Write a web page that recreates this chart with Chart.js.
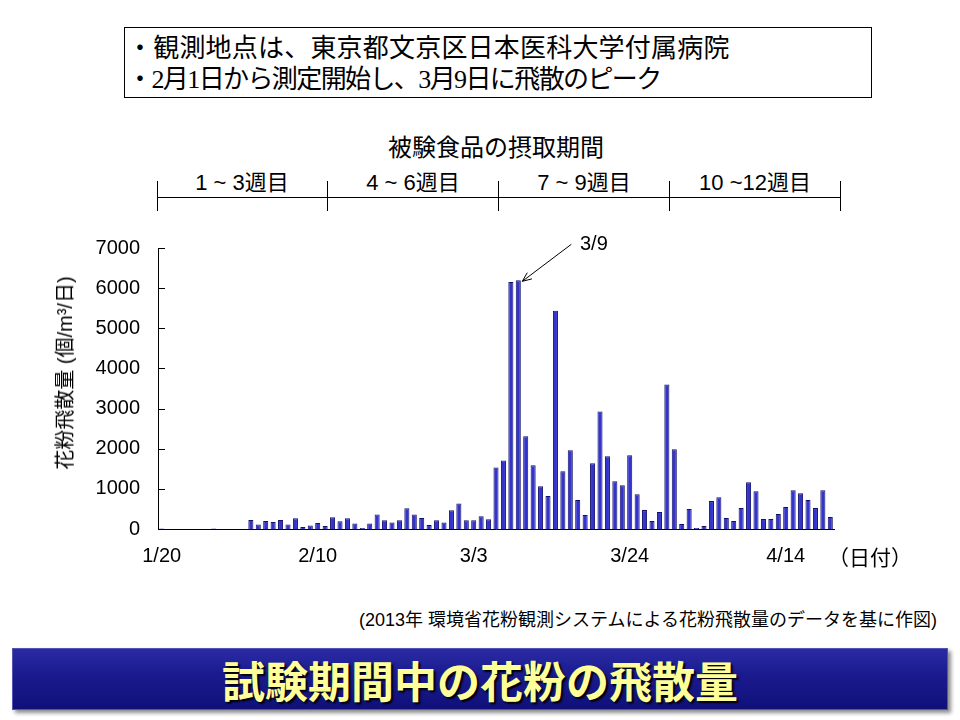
<!DOCTYPE html>
<html lang="ja">
<head>
<meta charset="utf-8">
<script src="https://cdn.jsdelivr.net/npm/chart.js@4.4.1/dist/chart.umd.min.js"></script>
<style>
  body { margin: 0; background: #fff; width: 960px; height: 720px; position: relative; overflow: hidden;
         font-family: "Liberation Sans", "Noto Sans CJK JP", sans-serif; color: #000; }
  .abs { position: absolute; white-space: nowrap; }
  .note-box { left: 124px; top: 27px; width: 746px; height: 69px; border: 1px solid #000; }
  .note { left: 127px; font-family: "Noto Sans CJK JP", sans-serif; font-size: 26px; line-height: 30px; }
  .serif { font-family: "Liberation Serif", serif; }
  .period-title { left: 0; width: 992px; text-align: center; top: 132px; font-size: 24px; line-height: 28px;
                  font-family: "Noto Sans CJK JP", sans-serif; }
  .period { font-size: 22px; line-height: 26px; text-align: center; width: 170px; top: 170px; }
  .hline { left: 157px; top: 197px; width: 684px; height: 1px; background: #000; }
  .vline { top: 181px; width: 1px; height: 30px; background: #000; }
  .ytitle { left: 65px; top: 373px; font-size: 20px; line-height: 24px;
            transform: translate(-50%, -50%) rotate(-90deg); }
  .banner { left: 12px; top: 648px; width: 934px; height: 60px; border: 1px solid #5555b0;
            background: linear-gradient(#2a2aa4, #1a1a8e 45%, #10107a);
            box-shadow: 3px 3px 4px rgba(0,0,0,0.45); }
  .banner-text { left: 12px; width: 936px; top: 648px; line-height: 62px; text-align: center;
                 font-family: "Noto Sans CJK JP", sans-serif; font-weight: bold; font-size: 43px;
                 color: #ffff99; text-shadow: 2px 2px 2px #000; }
</style>
</head>
<body>
<div class="abs note-box"></div>
<div class="abs note" style="top:31px; letter-spacing:0.2px;">・観測地点は、東京都文京区日本医科大学付属病院</div>
<div class="abs note" style="top:62px; letter-spacing:-1.6px;">・<span class="serif">2</span>月<span class="serif">1</span>日から測定開始し、<span class="serif">3</span>月<span class="serif">9</span>日に飛散のピーク</div>

<div class="abs period-title">被験食品の摂取期間</div>
<div class="abs period" style="left:157px;">1 ~ 3週目</div>
<div class="abs period" style="left:328px;">4 ~ 6週目</div>
<div class="abs period" style="left:499px;">7 ~ 9週目</div>
<div class="abs period" style="left:670px;">10 ~12週目</div>
<div class="abs hline"></div>
<div class="abs vline" style="left:157px;"></div>
<div class="abs vline" style="left:327px;"></div>
<div class="abs vline" style="left:498px;"></div>
<div class="abs vline" style="left:669px;"></div>
<div class="abs vline" style="left:840px;"></div>

<canvas id="pollenChart" class="abs" width="880" height="376" style="left:40px; top:218px;"></canvas>
<div class="abs ytitle">花粉飛散量 (個/m³/日)</div>

<div class="abs" style="left:580px; top:231px; font-size:20px; line-height:24px;">3/9</div>
<div class="abs" style="left:828px; top:543px; font-size:21px; line-height:26px; font-family:'Noto Sans CJK JP', sans-serif;">（日付）</div>
<div class="abs" style="right:23px; top:609px; font-size:18px; line-height:22px;">(2013年 環境省花粉観測システムによる花粉飛散量のデータを基に作図)</div>

<div class="abs banner"></div>
<div class="abs banner-text">試験期間中の花粉の飛散量</div>

<script>
var dateLabels = [
  "1/20", "1/21", "1/22", "1/23", "1/24", "1/25", "1/26", "1/27", "1/28", "1/29", "1/30", "1/31",
  "2/1", "2/2", "2/3", "2/4", "2/5", "2/6", "2/7", "2/8", "2/9", "2/10", "2/11", "2/12", "2/13", "2/14",
  "2/15", "2/16", "2/17", "2/18", "2/19", "2/20", "2/21", "2/22", "2/23", "2/24", "2/25", "2/26", "2/27", "2/28",
  "3/1", "3/2", "3/3", "3/4", "3/5", "3/6", "3/7", "3/8", "3/9", "3/10", "3/11", "3/12", "3/13", "3/14",
  "3/15", "3/16", "3/17", "3/18", "3/19", "3/20", "3/21", "3/22", "3/23", "3/24", "3/25", "3/26", "3/27",
  "3/28", "3/29", "3/30", "3/31",
  "4/1", "4/2", "4/3", "4/4", "4/5", "4/6", "4/7", "4/8", "4/9", "4/10", "4/11", "4/12", "4/13", "4/14",
  "4/15", "4/16", "4/17", "4/18", "4/19", "4/20"
];

// pollen count per day (個/m3/日)
var pollen = [
  10, 0, 0, 0, 0, 0, 0, 10, 0, 0, 0, 0,
  225, 115, 200, 175, 225, 115, 265, 50, 90, 150, 75, 295, 195, 270,
  140, 25, 140, 364, 215, 165, 215, 520, 364, 273, 100, 215, 165, 470,
  637, 215, 215, 318, 244, 1535, 1708, 6154, 6195, 2308, 1588, 1067, 819, 5434,
  1439, 1960, 720, 347, 1638, 2928, 1811, 1191, 1092, 1836, 868, 471, 199,
  422, 3598, 1985, 124,
  496, 25, 74, 695, 794, 273, 199, 521, 1166, 943, 248, 248, 372, 546,
  968, 893, 720, 521, 968, 298
];

var tickLabels = ["1/20", "2/10", "3/3", "3/24", "4/14"];
var peakLabel = "3/9";
var yMax = 7000, yStep = 1000;

// tick marks point into the plot on the y axis
var innerTicks = {
  id: "innerTicks",
  afterDraw: function (chart) {
    var ctx = chart.ctx, y = chart.scales.y, left = chart.chartArea.left;
    ctx.save();
    ctx.strokeStyle = "#000";
    ctx.lineWidth = 1;
    y.ticks.forEach(function (t) {
      var py = Math.round(y.getPixelForValue(t.value)) + 0.5;
      ctx.beginPath();
      ctx.moveTo(left, py);
      ctx.lineTo(left + 7, py);
      ctx.stroke();
    });
    ctx.restore();
  },
};

// arrow pointing at the peak day
var peakArrow = {
  id: "peakArrow",
  afterDatasetsDraw: function (chart) {
    var bar = chart.getDatasetMeta(0).data[dateLabels.indexOf(peakLabel)];
    var ctx = chart.ctx;
    var tx = bar.x + 4, ty = bar.y + 1;
    var sx = bar.x + 53, sy = bar.y - 36;
    var ang = Math.atan2(ty - sy, tx - sx);
    ctx.save();
    ctx.strokeStyle = "#000";
    ctx.lineWidth = 1;
    ctx.beginPath();
    ctx.moveTo(sx, sy);
    ctx.lineTo(tx, ty);
    ctx.moveTo(tx - 10 * Math.cos(ang - 0.4), ty - 10 * Math.sin(ang - 0.4));
    ctx.lineTo(tx, ty);
    ctx.lineTo(tx - 10 * Math.cos(ang + 0.4), ty - 10 * Math.sin(ang + 0.4));
    ctx.stroke();
    ctx.restore();
  },
};

var chart = new Chart(document.getElementById("pollenChart"), {
  type: "bar",
  data: {
    labels: dateLabels,
    datasets: [
      {
        data: pollen,
        backgroundColor: "#3434cc",
        borderColor: "#10106a",
        borderWidth: 1,
        categoryPercentage: 1,
        barPercentage: 0.68,
      },
    ],
  },
  options: {
    responsive: false,
    animation: false,
    layout: { padding: { top: 6, right: 86, bottom: 11, left: 0 } },
    plugins: { legend: { display: false }, tooltip: { enabled: false } },
    scales: {
      x: {
        grid: { display: false, drawTicks: false },
        border: { color: "#000", width: 1 },
        ticks: {
          autoSkip: false,
          maxRotation: 0,
          minRotation: 0,
          padding: 15,
          color: "#000",
          font: { family: "Liberation Sans", size: 20 },
          callback: function (val, i) {
            return tickLabels.indexOf(dateLabels[i]) >= 0 ? dateLabels[i] : "";
          },
        },
      },
      y: {
        min: 0,
        max: yMax,
        grid: { display: false, drawTicks: false },
        border: { color: "#000", width: 1 },
        ticks: {
          stepSize: yStep,
          padding: 18,
          color: "#000",
          font: { family: "Liberation Sans", size: 20 },
          callback: function (v) {
            return String(v);
          },
        },
        afterFit: function (scale) {
          scale.width = 118;
        },
      },
    },
  },
  plugins: [innerTicks, peakArrow],
});
</script>
</body>
</html>
